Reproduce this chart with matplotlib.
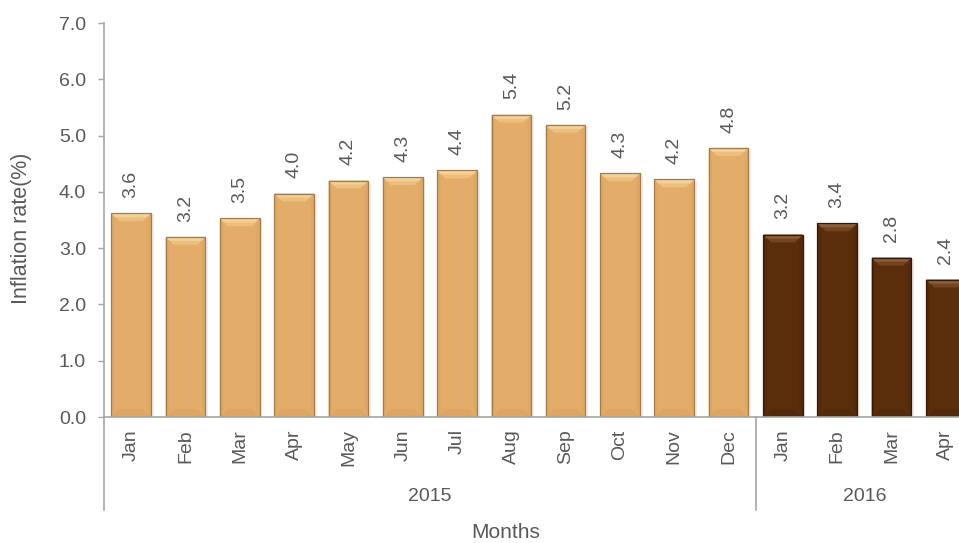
import matplotlib.pyplot as plt
from matplotlib.patches import Polygon, Rectangle
from matplotlib.lines import Line2D

plt.rcParams['font.family'] = ['Liberation Sans', 'DejaVu Sans']

months = ['Jan', 'Feb', 'Mar', 'Apr', 'May', 'Jun', 'Jul', 'Aug', 'Sep', 'Oct', 'Nov', 'Dec',
          'Jan', 'Feb', 'Mar', 'Apr']
years = ['2015', '2016']
months_per_year = [12, 4]
inflation = [3.62, 3.20, 3.53, 3.97, 4.20, 4.26, 4.38, 5.37, 5.19, 4.33, 4.22, 4.78,
             3.24, 3.44, 2.83, 2.44]

face = {'2015': '#E3AD69', '2016': '#5A2D0B'}
top_bevel = {'2015': '#F6D196', '2016': '#8E5D3A'}
top_bevel2 = {'2015': '#EDBF7E', '2016': '#734421'}
bottom_bevel = {'2015': '#DCA663', '2016': '#52290A'}
side_bevel = {'2015': '#DEA864', '2016': '#52290A'}
edge = {'2015': '#A47B49', '2016': '#361804'}

text_col = '#595959'
axis_col = '#A6A6A6'

fig = plt.figure(figsize=(9.59, 5.43), dpi=100)
ax = fig.add_axes([104 / 959, 1 - 417 / 543, 869 / 959, 394 / 543])

bar_year = []
for y, n in zip(years, months_per_year):
    bar_year += [y] * n

x = list(range(len(months)))
width = 0.73
bars = ax.bar(x, inflation, width=width, color=[face[y] for y in bar_year],
              edgecolor='none', linewidth=0, zorder=3)

# bevel and soft shadow, derived from each bar's own rectangle
bx, by = 0.15, 0.14
sx = 0.06
for rect, yr in zip(bars, bar_year):
    x0 = rect.get_x()
    x1 = x0 + rect.get_width()
    h = rect.get_height()
    ax.add_patch(Rectangle((x0 + 0.03, -0.02), x1 - x0 + 0.02, h, color='#E6E6E6',
                           alpha=0.7, lw=0, zorder=2))
    ax.add_patch(Polygon([(x0, 0), (x0 + sx, by), (x0 + sx, h - by), (x0, h)],
                         closed=True, color=side_bevel[yr], lw=0, zorder=4))
    ax.add_patch(Polygon([(x1, 0), (x1 - sx, by), (x1 - sx, h - by), (x1, h)],
                         closed=True, color=side_bevel[yr], lw=0, zorder=4))
    ax.add_patch(Polygon([(x0, 0), (x1, 0), (x1 - bx, by), (x0 + bx, by)],
                         closed=True, color=bottom_bevel[yr], lw=0, zorder=4))
    ax.add_patch(Polygon([(x0, h), (x1, h), (x1 - bx, h - by), (x0 + bx, h - by)],
                         closed=True, color=top_bevel2[yr], lw=0, zorder=4))
    ax.add_patch(Polygon([(x0, h), (x1, h), (x1 - bx / 2, h - by / 2), (x0 + bx / 2, h - by / 2)],
                         closed=True, color=top_bevel[yr], lw=0, zorder=4))
    ax.add_patch(Rectangle((x0, 0), x1 - x0, h, fill=False, edgecolor=edge[yr], lw=0.9,
                           zorder=5))

for xi, v in zip(x, inflation):
    ax.annotate(f'{v:.1f}', (xi, v), xytext=(0, 11), textcoords='offset points',
                rotation=90, ha='center', va='bottom', fontsize=14, color=text_col)

ax.set_xlim(-0.5, len(months) - 0.5)
ax.set_ylim(0, 7)
ax.set_yticks([0, 1, 2, 3, 4, 5, 6, 7])
ax.set_yticklabels([f'{t:.1f}' for t in range(8)])
ax.set_xticks(x)
ax.set_xticklabels(months, rotation=90)
ax.tick_params(axis='x', length=0, pad=9, labelsize=14, colors=text_col)
ax.tick_params(axis='y', length=4, width=1, pad=9, labelsize=14, colors=text_col)
ax.tick_params(axis='y', color=axis_col)

for s in ['top', 'right']:
    ax.spines[s].set_visible(False)
for s in ['left', 'bottom']:
    ax.spines[s].set_color(axis_col)
    ax.spines[s].set_linewidth(1.2)
    ax.spines[s].set_zorder(6)

# year groups below the month labels
trans = ax.get_xaxis_transform()
start = -0.5
for yr, n in zip(years, months_per_year):
    ax.text(start + n / 2, -0.203, yr, transform=trans, ha='center', va='center',
            fontsize=14, color=text_col)
    ax.add_line(Line2D([start, start], [0, -0.236], transform=trans, color=axis_col,
                       lw=1.2, clip_on=False))
    start += n

fig.text(506 / 959, 1 - 533 / 543, 'Months', ha='center', va='center', fontsize=15,
         color=text_col)
fig.text(22 / 959, 1 - 228 / 543, 'Inflation rate(%)', ha='center', va='center',
         rotation=90, fontsize=15.5, color=text_col)

fig.savefig('out.png', dpi=100)
